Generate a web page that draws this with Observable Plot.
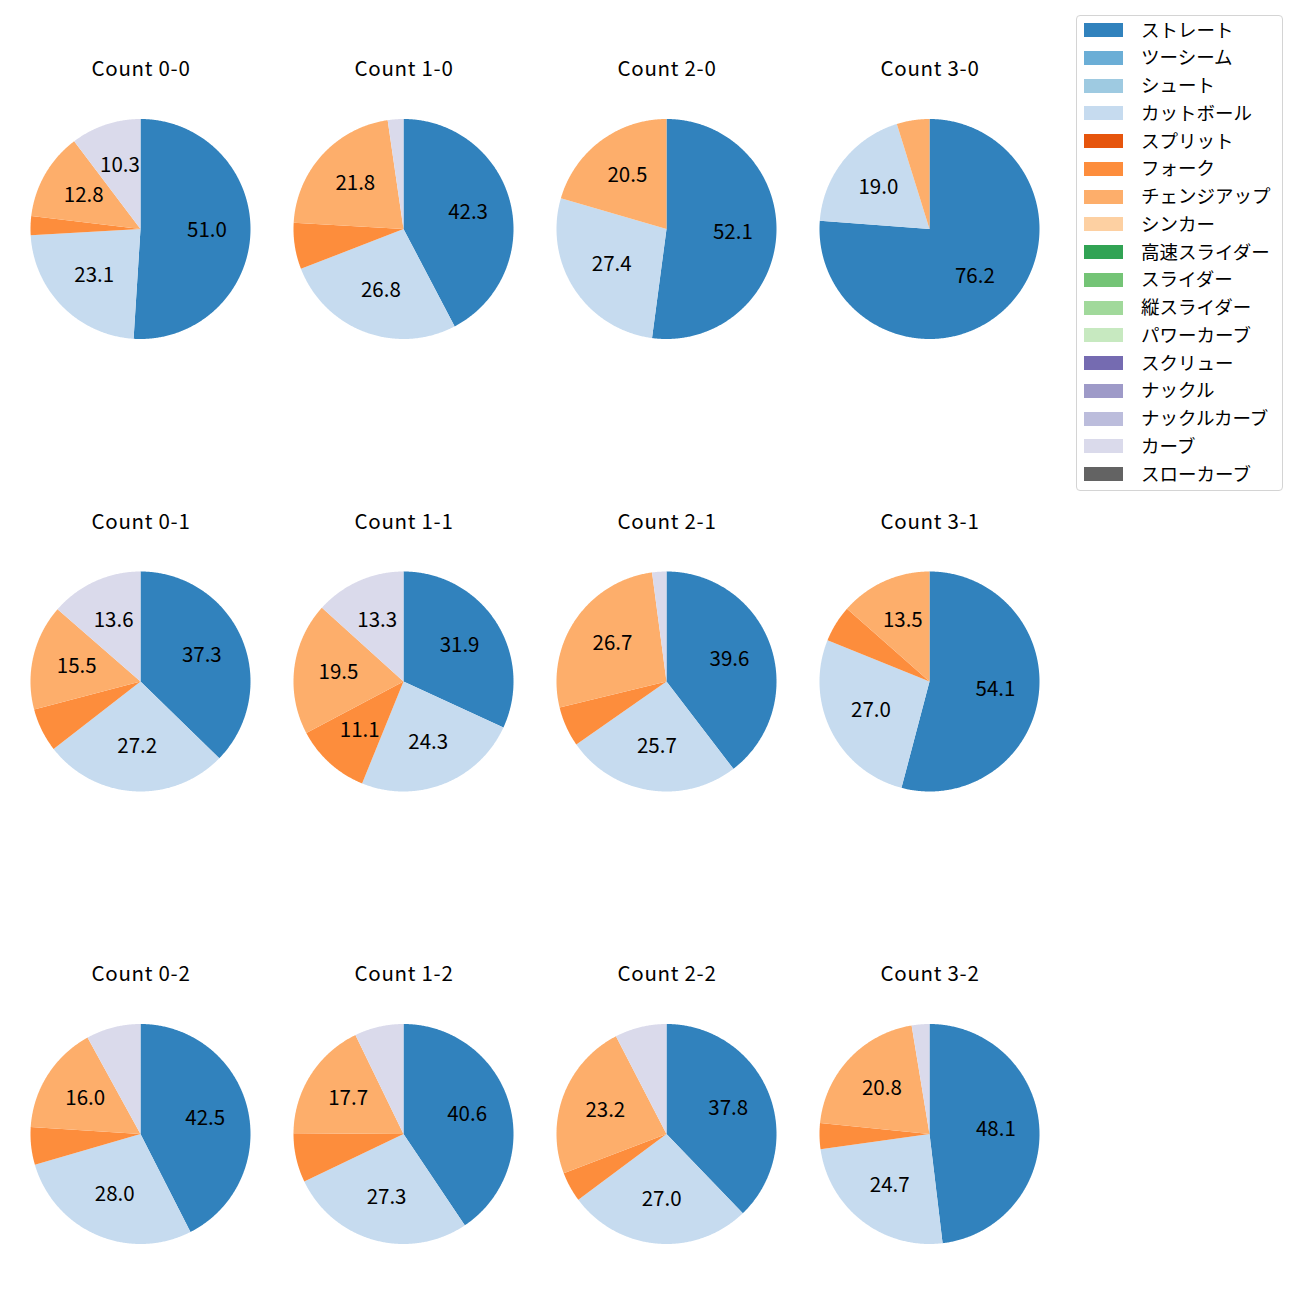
<!DOCTYPE html>
<html><head><meta charset="utf-8">
<script src="https://cdn.jsdelivr.net/npm/d3@7"></script>
<script src="https://cdn.jsdelivr.net/npm/@observablehq/plot@0.6"></script>
<style>
body{margin:0;background:#fff;font-family:"Noto Sans CJK JP",sans-serif;}
#wrap{position:relative;width:1300px;height:1300px;}
#legend{position:absolute;left:1076px;top:15px;width:207px;height:476px;border:1px solid #d4d4d4;border-radius:4px;box-sizing:border-box;background:#fff;}
.sw{position:absolute;left:7px;width:39px;height:14px;}
.lb{position:absolute;left:64px;font-size:18.5px;line-height:20px;color:#000;white-space:nowrap;}
</style></head><body><div id="wrap"></div>
<script>
const pitchTypes = ["ストレート","ツーシーム","シュート","カットボール","スプリット","フォーク","チェンジアップ","シンカー","高速スライダー","スライダー","縦スライダー","パワーカーブ","スクリュー","ナックル","ナックルカーブ","カーブ","スローカーブ"];
const pitchColors = ["#3182bd","#6baed6","#9ecae1","#c6dbef","#e6550d","#fd8d3c","#fdae6b","#fdd0a2","#31a354","#74c476","#a1d99b","#c7e9c0","#756bb1","#9e9ac8","#bcbddc","#dadaeb","#636363"];
const counts = ["0-0","1-0","2-0","3-0","0-1","1-1","2-1","3-1","0-2","1-2","2-2","3-2"];
const straight = [51.0, 42.3, 52.1, 76.2, 37.3, 31.9, 39.6, 54.1, 42.5, 40.6, 37.8, 48.1];
const cutter   = [23.1, 26.8, 27.4, 19.0, 27.2, 24.3, 25.7, 27.0, 28.0, 27.3, 27.0, 24.7];
const fork     = [2.8, 6.8, 0, 0, 6.4, 11.1, 5.9, 5.4, 5.5, 7.2, 4.4, 3.8];
const changeup = [12.8, 21.8, 20.5, 4.8, 15.5, 19.5, 26.7, 13.5, 16.0, 17.7, 23.2, 20.8];
const curve    = [10.3, 2.3, 0, 0, 13.6, 13.3, 2.1, 0, 8.0, 7.2, 7.6, 2.6];

const seriesByType = {"ストレート": straight, "カットボール": cutter, "フォーク": fork, "チェンジアップ": changeup, "カーブ": curve};

// layout
const colX = [140.5, 403.5, 666.5, 929.5];
const rowY = [229, 681.5, 1134];
const R = 110;

const areaPts = [];
const labels = [];
const titles = [];
counts.forEach((c, i) => {
  const cx = colX[i % 4], cy = rowY[Math.floor(i / 4)];
  titles.push({x: cx, y: cy - 160, text: "Count " + c});
  const vals = pitchTypes.map(t => ({type: t, v: seriesByType[t] ? seriesByType[t][i] : 0})).filter(d => d.v > 0);
  const total = d3.sum(vals, d => d.v);
  let acc = 0;
  vals.forEach(d => {
    const a0 = acc / total * 2 * Math.PI;
    acc += d.v;
    const a1 = acc / total * 2 * Math.PI;
    const n = Math.max(2, Math.ceil((a1 - a0) / (Math.PI / 360)));
    const id = c + "|" + d.type;
    for (let k = 0; k <= n; k++) {
      const t = a0 + (a1 - a0) * k / n;
      areaPts.push({id, type: d.type, x1: cx + R * Math.sin(t), y1: cy - R * Math.cos(t), x2: cx, y2: cy});
    }
    if (d.v >= 10) {
      const m = (a0 + a1) / 2;
      labels.push({x: cx + 0.6 * R * Math.sin(m), y: cy - 0.6 * R * Math.cos(m), text: d.v.toFixed(1)});
    }
  });
});

const plot = Plot.plot({
  width: 1300, height: 1300,
  margin: 0,
  x: {domain: [0, 1300], range: [0, 1300], axis: null},
  y: {domain: [0, 1300], range: [0, 1300], axis: null},
  color: {domain: pitchTypes, range: pitchColors},
  style: {fontFamily: "'Noto Sans CJK JP', sans-serif", background: "#fff"},
  marks: [
    Plot.area(areaPts, {x1: "x1", y1: "y1", x2: "x2", y2: "y2", z: "id", fill: "type", curve: "linear"}),
    Plot.text(labels, {x: "x", y: "y", text: "text", fontSize: 20.5, dy: -1, fill: "#000"}),
    Plot.text(titles, {x: "x", y: "y", text: "text", fontSize: 20.5, fill: "#000"})
  ]
});
d3.select(plot).selectAll("g[aria-label=text]").filter((d, i) => i === 1).attr("letter-spacing", "0.7px");
const wrap = document.getElementById("wrap");
wrap.appendChild(plot);

const lg = document.createElement("div");
lg.id = "legend";
pitchTypes.forEach((t, i) => {
  const yc = 14 + i * 27.75;
  const sw = document.createElement("div");
  sw.className = "sw";
  sw.style.top = (yc - 7) + "px";
  sw.style.background = pitchColors[i];
  lg.appendChild(sw);
  const lb = document.createElement("div");
  lb.className = "lb";
  lb.style.top = (yc - 11.5) + "px";
  lb.textContent = t;
  lg.appendChild(lb);
});
wrap.appendChild(lg);
</script>
</body></html>
